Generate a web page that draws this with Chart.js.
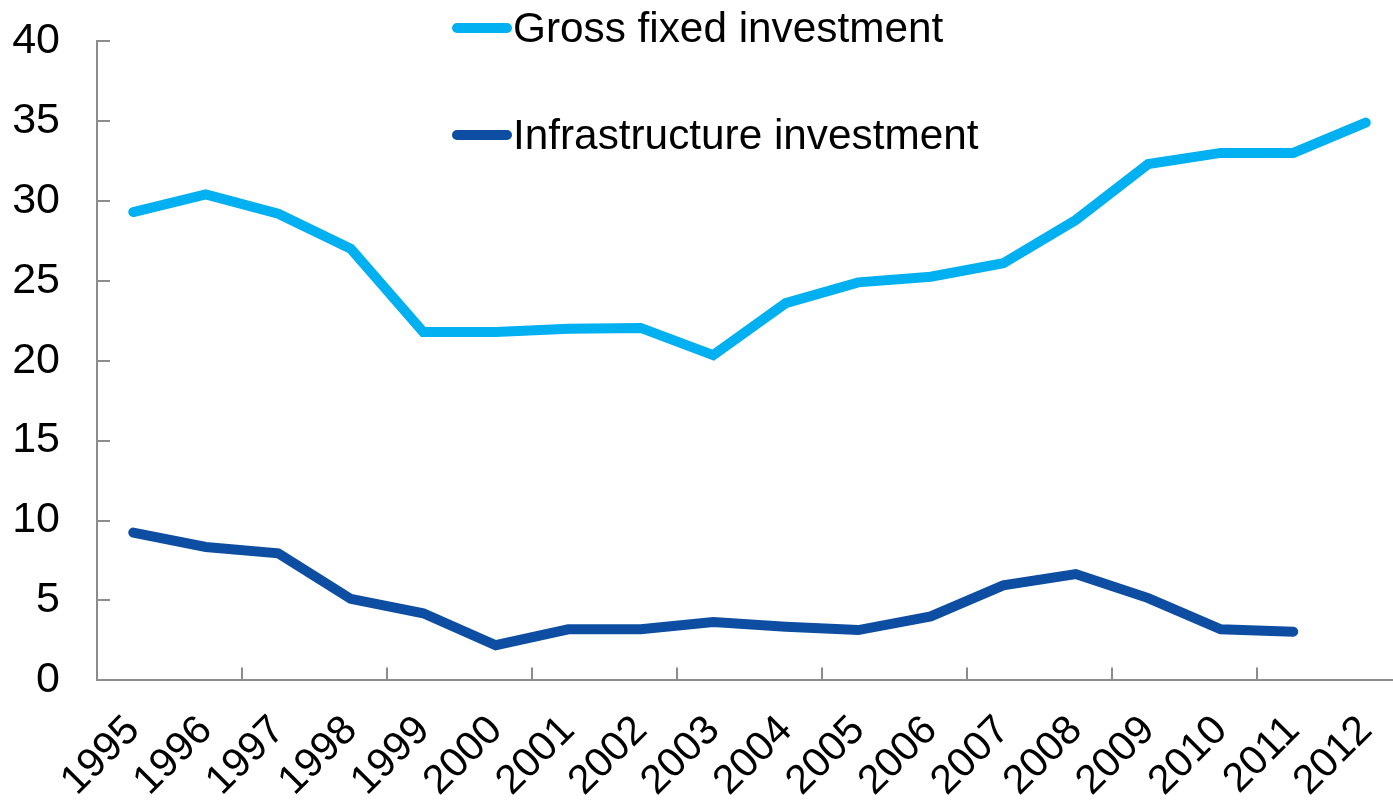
<!DOCTYPE html>
<html>
<head>
<meta charset="utf-8">
<title>Gross fixed and infrastructure investment, 1995–2012</title>
<script src="https://cdn.jsdelivr.net/npm/chart.js@4.4.1/dist/chart.umd.min.js"></script>
<style>
  html, body { margin: 0; padding: 0; background: #fff; overflow: hidden; }
  #wrap { position: relative; width: 1393px; height: 802px; overflow: hidden; }
  #plot { position: absolute; left: 0; top: 0; width: 1420px; height: 802px; }
  #legend {
    position: absolute; left: 452px; top: 3px;
    font-family: "Liberation Sans", Arial, sans-serif; font-size: 42.3px; color: #000;
  }
  .legend-item { position: absolute; left: 0; height: 50px; display: flex; align-items: center; white-space: nowrap; }
  .legend-swatch { width: 60px; height: 10px; border-radius: 5px; margin-right: 1px; flex: none; }
</style>
</head>
<body>
<div id="wrap">
  <div id="plot"><canvas id="chart"></canvas></div>
  <div id="legend"></div>
</div>
<script>
// Years on the category axis
const years = ['1995', '1996', '1997', '1998', '1999', '2000', '2001', '2002', '2003',
               '2004', '2005', '2006', '2007', '2008', '2009', '2010', '2011', '2012'];

// Investment series, per cent
const grossFixed = [29.3, 30.4, 29.2, 27.0, 21.8, 21.8, 22.0, 22.05, 20.35,
                    23.6, 24.9, 25.25, 26.1, 28.8, 32.3, 33.0, 33.0, 34.9];
const infrastructure = [9.25, 8.35, 7.95, 5.1, 4.2, 2.2, 3.2, 3.2, 3.65,
                        3.35, 3.15, 4.0, 5.95, 6.65, 5.15, 3.2, 3.05];

const seriesNames = ['Gross fixed investment', 'Infrastructure investment'];

// Value axis
const yMin = 0;
const yMax = 40;
const yStep = 5;

const FONT = '"Liberation Sans", Arial, sans-serif';
const LIGHT_BLUE = '#00B0F0';
const DARK_BLUE = '#0D4EA2';
const AXIS_GREY = '#8c8c8c';

// Short tick marks pointing into the plot area
const innerTicks = {
  id: 'innerTicks',
  beforeDatasetsDraw(chart) {
    const { ctx, scales: { x, y } } = chart;
    ctx.save();
    ctx.strokeStyle = AXIS_GREY;
    ctx.lineWidth = 2;
    ctx.beginPath();
    y.ticks.forEach(t => {
      const py = Math.round(y.getPixelForValue(t.value));
      ctx.moveTo(y.right, py);
      ctx.lineTo(y.right + 13, py);
    });
    const n = x.getLabels().length;
    const step = (x.right - x.left) / n;
    for (let i = 0; i <= n; i += 2) {
      const px = Math.round(x.left + i * step);
      ctx.moveTo(px, x.top);
      ctx.lineTo(px, x.top - 13);
    }
    ctx.stroke();
    ctx.restore();
  }
};

// Legend rendered as HTML, stacked vertically
const htmlLegend = {
  id: 'htmlLegend',
  afterUpdate(chart) {
    const box = document.getElementById('legend');
    box.innerHTML = '';
    const items = chart.options.plugins.legend.labels.generateLabels(chart);
    items.forEach((item, i) => {
      const row = document.createElement('div');
      row.className = 'legend-item';
      row.style.top = (i * 107) + 'px';
      const sw = document.createElement('span');
      sw.className = 'legend-swatch';
      sw.style.background = item.strokeStyle;
      const label = document.createElement('span');
      label.textContent = item.text;
      row.appendChild(sw);
      row.appendChild(label);
      box.appendChild(row);
    });
  }
};

const lineStyle = {
  borderWidth: 10,
  pointRadius: 0,
  pointHoverRadius: 0,
  tension: 0,
  fill: false,
  borderCapStyle: 'round',
  borderJoinStyle: 'miter'
};

new Chart(document.getElementById('chart'), {
  type: 'line',
  data: {
    labels: years,
    datasets: [
      Object.assign({ label: seriesNames[0], data: grossFixed, borderColor: LIGHT_BLUE, backgroundColor: LIGHT_BLUE }, lineStyle),
      Object.assign({ label: seriesNames[1], data: infrastructure, borderColor: DARK_BLUE, backgroundColor: DARK_BLUE }, lineStyle)
    ]
  },
  options: {
    responsive: true,
    maintainAspectRatio: false,
    animation: false,
    events: [],
    layout: { padding: { top: 41, left: 0, right: 18, bottom: 0 } },
    plugins: {
      legend: { display: false },
      tooltip: { enabled: false }
    },
    scales: {
      x: {
        type: 'category',
        offset: true,
        grid: { display: false, drawTicks: false },
        border: { display: true, color: AXIS_GREY, width: 2 },
        ticks: {
          autoSkip: false,
          minRotation: 45,
          maxRotation: 45,
          padding: 26,
          color: '#000',
          font: { family: FONT, size: 41 }
        },
        afterFit(scale) {
          scale.height = 121.6;
          scale.paddingLeft = 0;
          scale.paddingRight = 0;
        }
      },
      y: {
        min: yMin,
        max: yMax,
        grid: { display: false, drawTicks: false },
        border: { display: true, color: AXIS_GREY, width: 2 },
        ticks: {
          stepSize: yStep,
          padding: 37,
          color: '#000',
          font: { family: FONT, size: 43 }
        },
        afterFit(scale) {
          scale.width = 97;
          scale.paddingTop = 0;
          scale.paddingBottom = 0;
        }
      }
    }
  },
  plugins: [innerTicks, htmlLegend]
});
</script>
</body>
</html>
